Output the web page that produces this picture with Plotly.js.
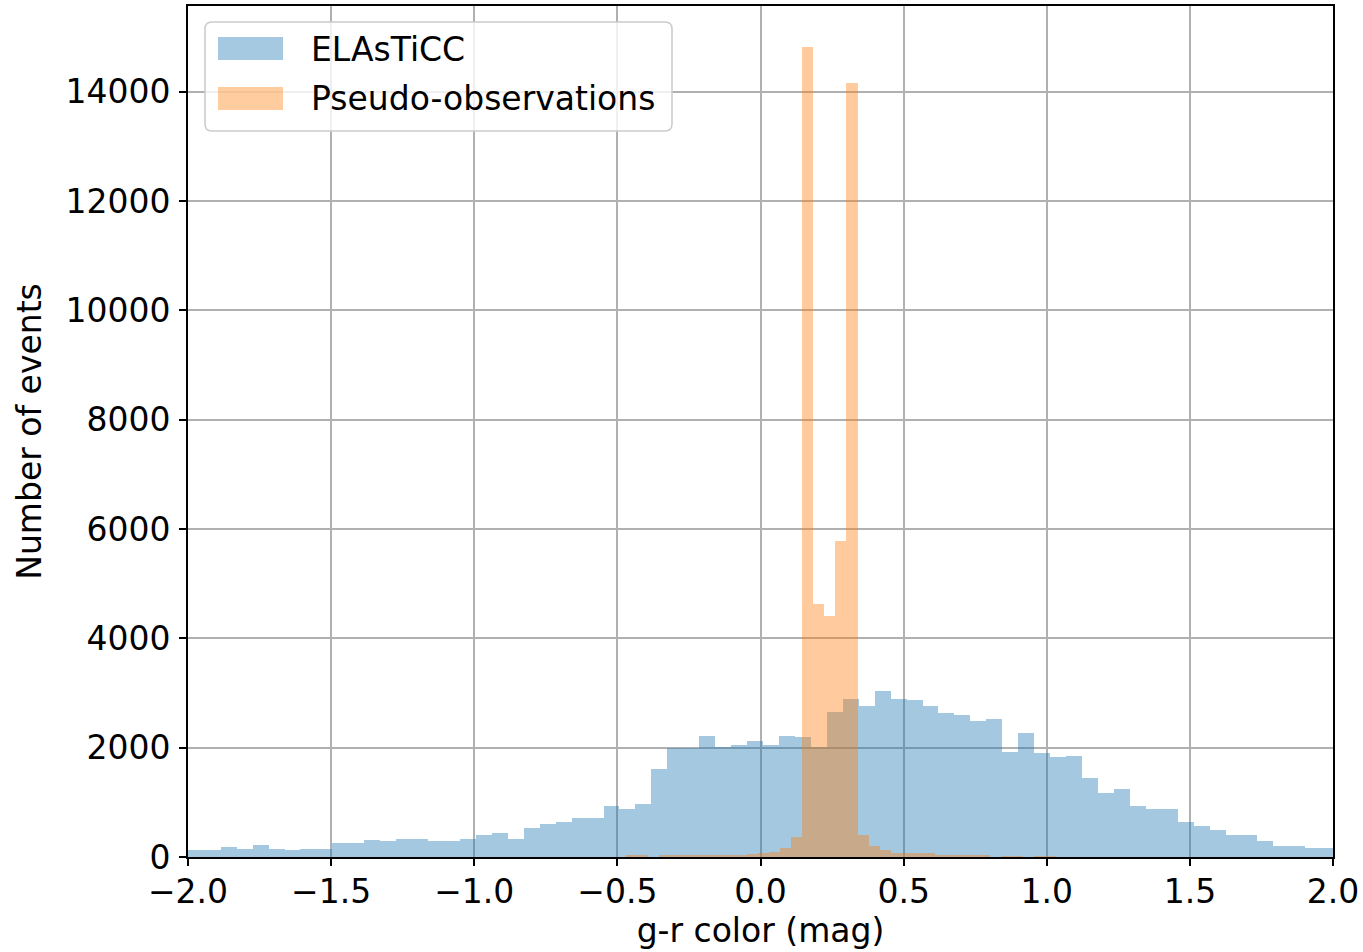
<!DOCTYPE html>
<html>
<head>
<meta charset="utf-8">
<script src="https://cdn.plot.ly/plotly-3.0.1.min.js"></script>
<style>html,body{margin:0;padding:0;background:#fff;}#chart{width:1363px;height:952px;}</style>
</head>
<body>
<div id="chart"></div>
<script>
// ---- data ----
const seriesNames = ["ELAsTiCC", "Pseudo-observations"];
const xTitle = "g-r color (mag)";
const yTitle = "Number of events";

// ELAsTiCC histogram: first bin left edge, bin width, counts
const elasticcBinStart = -2.0529;
const elasticcBinWidth = 0.05572;
const elasticcCounts = [125, 125, 125, 188, 152, 225, 152, 122, 152, 152,
  258, 258, 320, 300, 330, 330, 300, 300, 330, 402,
  441, 334, 535, 608, 638, 707, 707, 941, 881, 972,
  1612, 1990, 1990, 2220, 2005, 2050, 2118, 2055, 2220, 2190,
  2015, 2660, 2895, 2765, 3030, 2890, 2870, 2755, 2635, 2600,
  2490, 2530, 1930, 2265, 1895, 1825, 1850, 1440, 1175, 1240,
  940, 880, 880, 636, 563, 503, 406, 406, 296, 197,
  197, 161, 161];

// Pseudo-observations histogram
const pseudoBinStart = -0.4716;
const pseudoBinWidth = 0.0386;
const pseudoCounts = [35, 35, 0, 30, 30, 30, 30, 30, 30, 30,
  35, 64, 65, 100, 160, 370, 14830, 4630, 4415, 5780,
  14170, 406, 205, 132, 70, 70, 70, 65, 40, 40,
  35, 35, 30, 0, 25, 25, 0, 25, 25];

const xTickVals = [-2.0, -1.5, -1.0, -0.5, 0.0, 0.5, 1.0, 1.5, 2.0];
const xTickText = ["\u22122.0", "\u22121.5", "\u22121.0", "\u22120.5", "0.0", "0.5", "1.0", "1.5", "2.0"];
const yTickVals = [0, 2000, 4000, 6000, 8000, 10000, 12000, 14000];
const yTickText = ["0", "2000", "4000", "6000", "8000", "10000", "12000", "14000"];

// ---- build ----
function centers(start, width, n) {
  const c = [];
  for (let i = 0; i < n; i++) c.push(start + (i + 0.5) * width);
  return c;
}
const blueColor = "#1f77b4";
const orangeColor = "#ff7f0e";

const traces = [
  {
    type: "bar", name: seriesNames[0],
    x: centers(elasticcBinStart, elasticcBinWidth, elasticcCounts.length),
    y: elasticcCounts, width: elasticcBinWidth,
    marker: {color: blueColor, line: {width: 0}}, opacity: 0.4,
    showlegend: false, hoverinfo: "x+y"
  },
  {
    type: "bar", name: seriesNames[1],
    x: centers(pseudoBinStart, pseudoBinWidth, pseudoCounts.length),
    y: pseudoCounts, width: pseudoBinWidth,
    marker: {color: orangeColor, line: {width: 0}}, opacity: 0.4,
    showlegend: false, hoverinfo: "x+y"
  }
];

const ymax = Math.max(...elasticcCounts, ...pseudoCounts) * 1.05;

// custom legend (matplotlib-like), paper coords
const L = {l: 188, r: 30, t: 6, b: 95, W: 1363, H: 952};
const pw = L.W - L.l - L.r, ph = L.H - L.t - L.b;
const px = v => (v - L.l) / pw;
const py = v => (L.H - L.b - v) / ph;
function roundRect(x0, y0, x1, y1, r) {
  const rx = r / pw, ry = r / ph;
  const X0 = px(x0), X1 = px(x1), Yt = py(y0), Yb = py(y1);
  return `M${X0 + rx},${Yt} L${X1 - rx},${Yt} Q${X1},${Yt} ${X1},${Yt - ry} L${X1},${Yb + ry} Q${X1},${Yb} ${X1 - rx},${Yb} L${X0 + rx},${Yb} Q${X0},${Yb} ${X0},${Yb + ry} L${X0},${Yt - ry} Q${X0},${Yt} ${X0 + rx},${Yt} Z`;
}
const shapes = [
  {type: "path", xref: "paper", yref: "paper", path: roundRect(205, 22, 672, 131, 7),
   fillcolor: "rgba(255,255,255,0.8)", line: {color: "#cccccc", width: 1.6}, layer: "above"},
  {type: "rect", xref: "paper", yref: "paper", x0: px(218), x1: px(283), y0: py(60), y1: py(37),
   fillcolor: blueColor, opacity: 0.4, line: {width: 0}, layer: "above"},
  {type: "rect", xref: "paper", yref: "paper", x0: px(218), x1: px(283), y0: py(110), y1: py(87),
   fillcolor: orangeColor, opacity: 0.4, line: {width: 0}, layer: "above"}
];
const font = {family: "DejaVu Sans", size: 33, color: "#000"};
const annotations = [
  {xref: "paper", yref: "paper", x: px(309), y: py(49), text: seriesNames[0], showarrow: false,
   xanchor: "left", yanchor: "middle", font: font},
  {xref: "paper", yref: "paper", x: px(309), y: py(99), text: seriesNames[1], showarrow: false,
   xanchor: "left", yanchor: "middle", font: font}
];

const axisCommon = {
  showline: true, linecolor: "#000", linewidth: 2, mirror: true,
  ticks: "outside", ticklen: 7, tickwidth: 2, tickcolor: "#000",
  showgrid: true, gridcolor: "#b0b0b0", gridwidth: 2, zeroline: false,
  tickfont: font
};

const layout = {
  width: L.W, height: L.H,
  margin: {l: L.l, r: L.r, t: L.t, b: L.b, pad: 0},
  paper_bgcolor: "#fff", plot_bgcolor: "#fff",
  font: font,
  barmode: "overlay", bargap: 0,
  showlegend: false,
  xaxis: Object.assign({}, axisCommon, {
    range: [-2, 2], tickmode: "array", tickvals: xTickVals, ticktext: xTickText,
    ticklabelstandoff: -3,
    title: {text: xTitle, font: font, standoff: 8}, automargin: false
  }),
  yaxis: Object.assign({}, axisCommon, {
    range: [0, ymax], tickmode: "array", tickvals: yTickVals, ticktext: yTickText,
    ticklabelstandoff: 2,
    title: {text: yTitle, font: font, standoff: 14}, automargin: false
  }),
  shapes: shapes,
  annotations: annotations
};

Plotly.newPlot("chart", traces, layout, {displayModeBar: false, staticPlot: true});
</script>
</body>
</html>
